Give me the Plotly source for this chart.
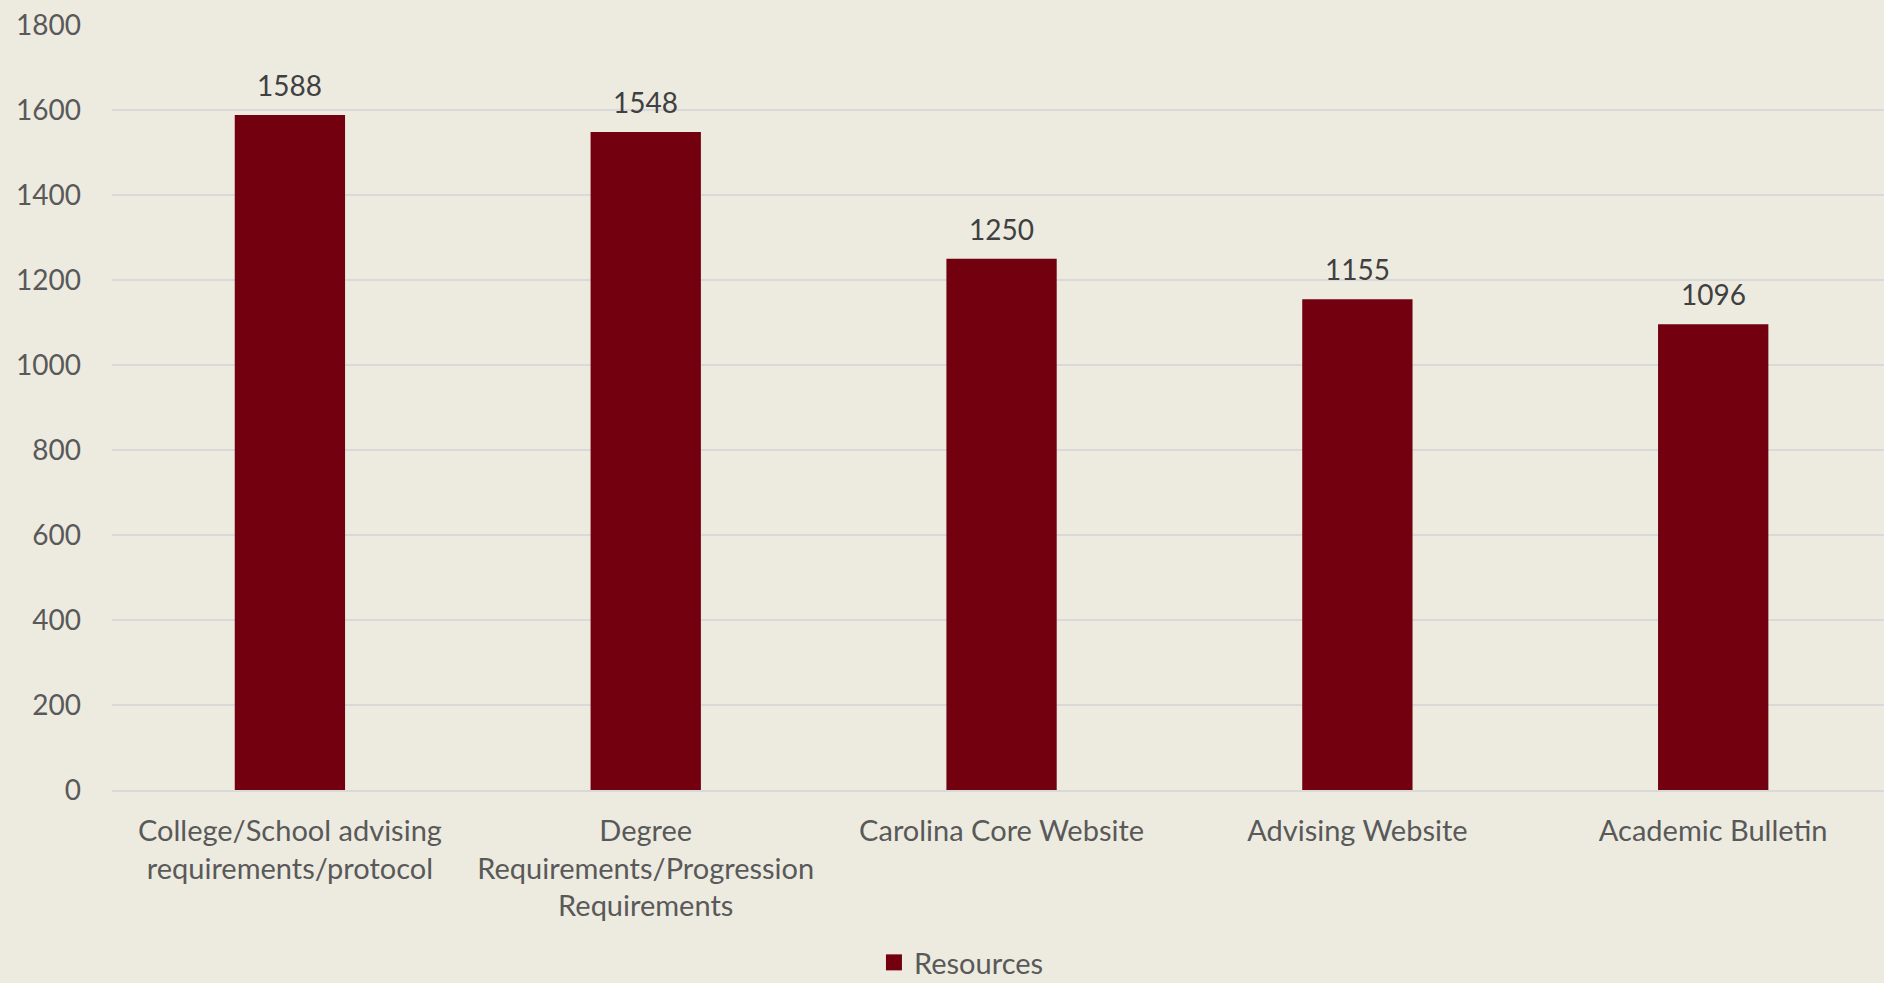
import plotly.graph_objects as go

categories = [
    "College/School advising<br>requirements/protocol",
    "Degree<br>Requirements/Progression<br>Requirements",
    "Carolina Core Website",
    "Advising Website",
    "Academic Bulletin",
]
values = [1588, 1548, 1250, 1155, 1096]
series_name = "Resources"
y_ticks = [0, 200, 400, 600, 800, 1000, 1200, 1400, 1600, 1800]

BG = "#EDEBE0"
BAR = "#72000F"
FONT = "Lato"

fig = go.Figure()
fig.add_trace(go.Bar(
    x=categories, y=values, name=series_name,
    marker=dict(color=BAR, line=dict(width=0)),
    showlegend=False,
))
# legend entry with a larger square swatch
fig.add_trace(go.Scatter(
    x=[None], y=[None], mode="markers", name=series_name,
    marker=dict(symbol="square", size=16, color=BAR),
    showlegend=True,
))

for c, v in zip(categories, values):
    fig.add_annotation(x=c, y=v, text=str(v), showarrow=False, yshift=30,
                       font=dict(family=FONT, size=28, color="#404040"))

fig.update_layout(
    width=1884, height=983,
    paper_bgcolor=BG, plot_bgcolor=BG,
    margin=dict(l=112, r=0, t=25, b=193, autoexpand=False),
    bargap=0.69,
    font=dict(family=FONT, size=28, color="#595959"),
    showlegend=True,
    legend=dict(orientation="h", x=0.43, xanchor="left", y=-0.2255, yanchor="middle",
                font=dict(family=FONT, size=29, color="#595959"), bgcolor="rgba(0,0,0,0)",
                itemwidth=30, itemsizing="trace"),
    xaxis=dict(range=[-0.5, 4.48], showgrid=False, showline=True, linecolor="#D9D9D9",
               linewidth=2, ticks="", ticklabelstandoff=14,
               tickfont=dict(family=FONT, size=29, color="#595959")),
    yaxis=dict(range=[0, 1800], tickvals=y_ticks, showgrid=True, gridcolor="#D9D9D9",
               gridwidth=1.5, zeroline=False, showline=False, ticks="",
               ticklabelstandoff=30,
               tickfont=dict(family=FONT, size=28, color="#595959")),
)

fig.write_html(
    "out.html",
    config={"displayModeBar": False},
    post_script="document.body.style.margin='0';document.body.style.background='" + BG + "';",
)
